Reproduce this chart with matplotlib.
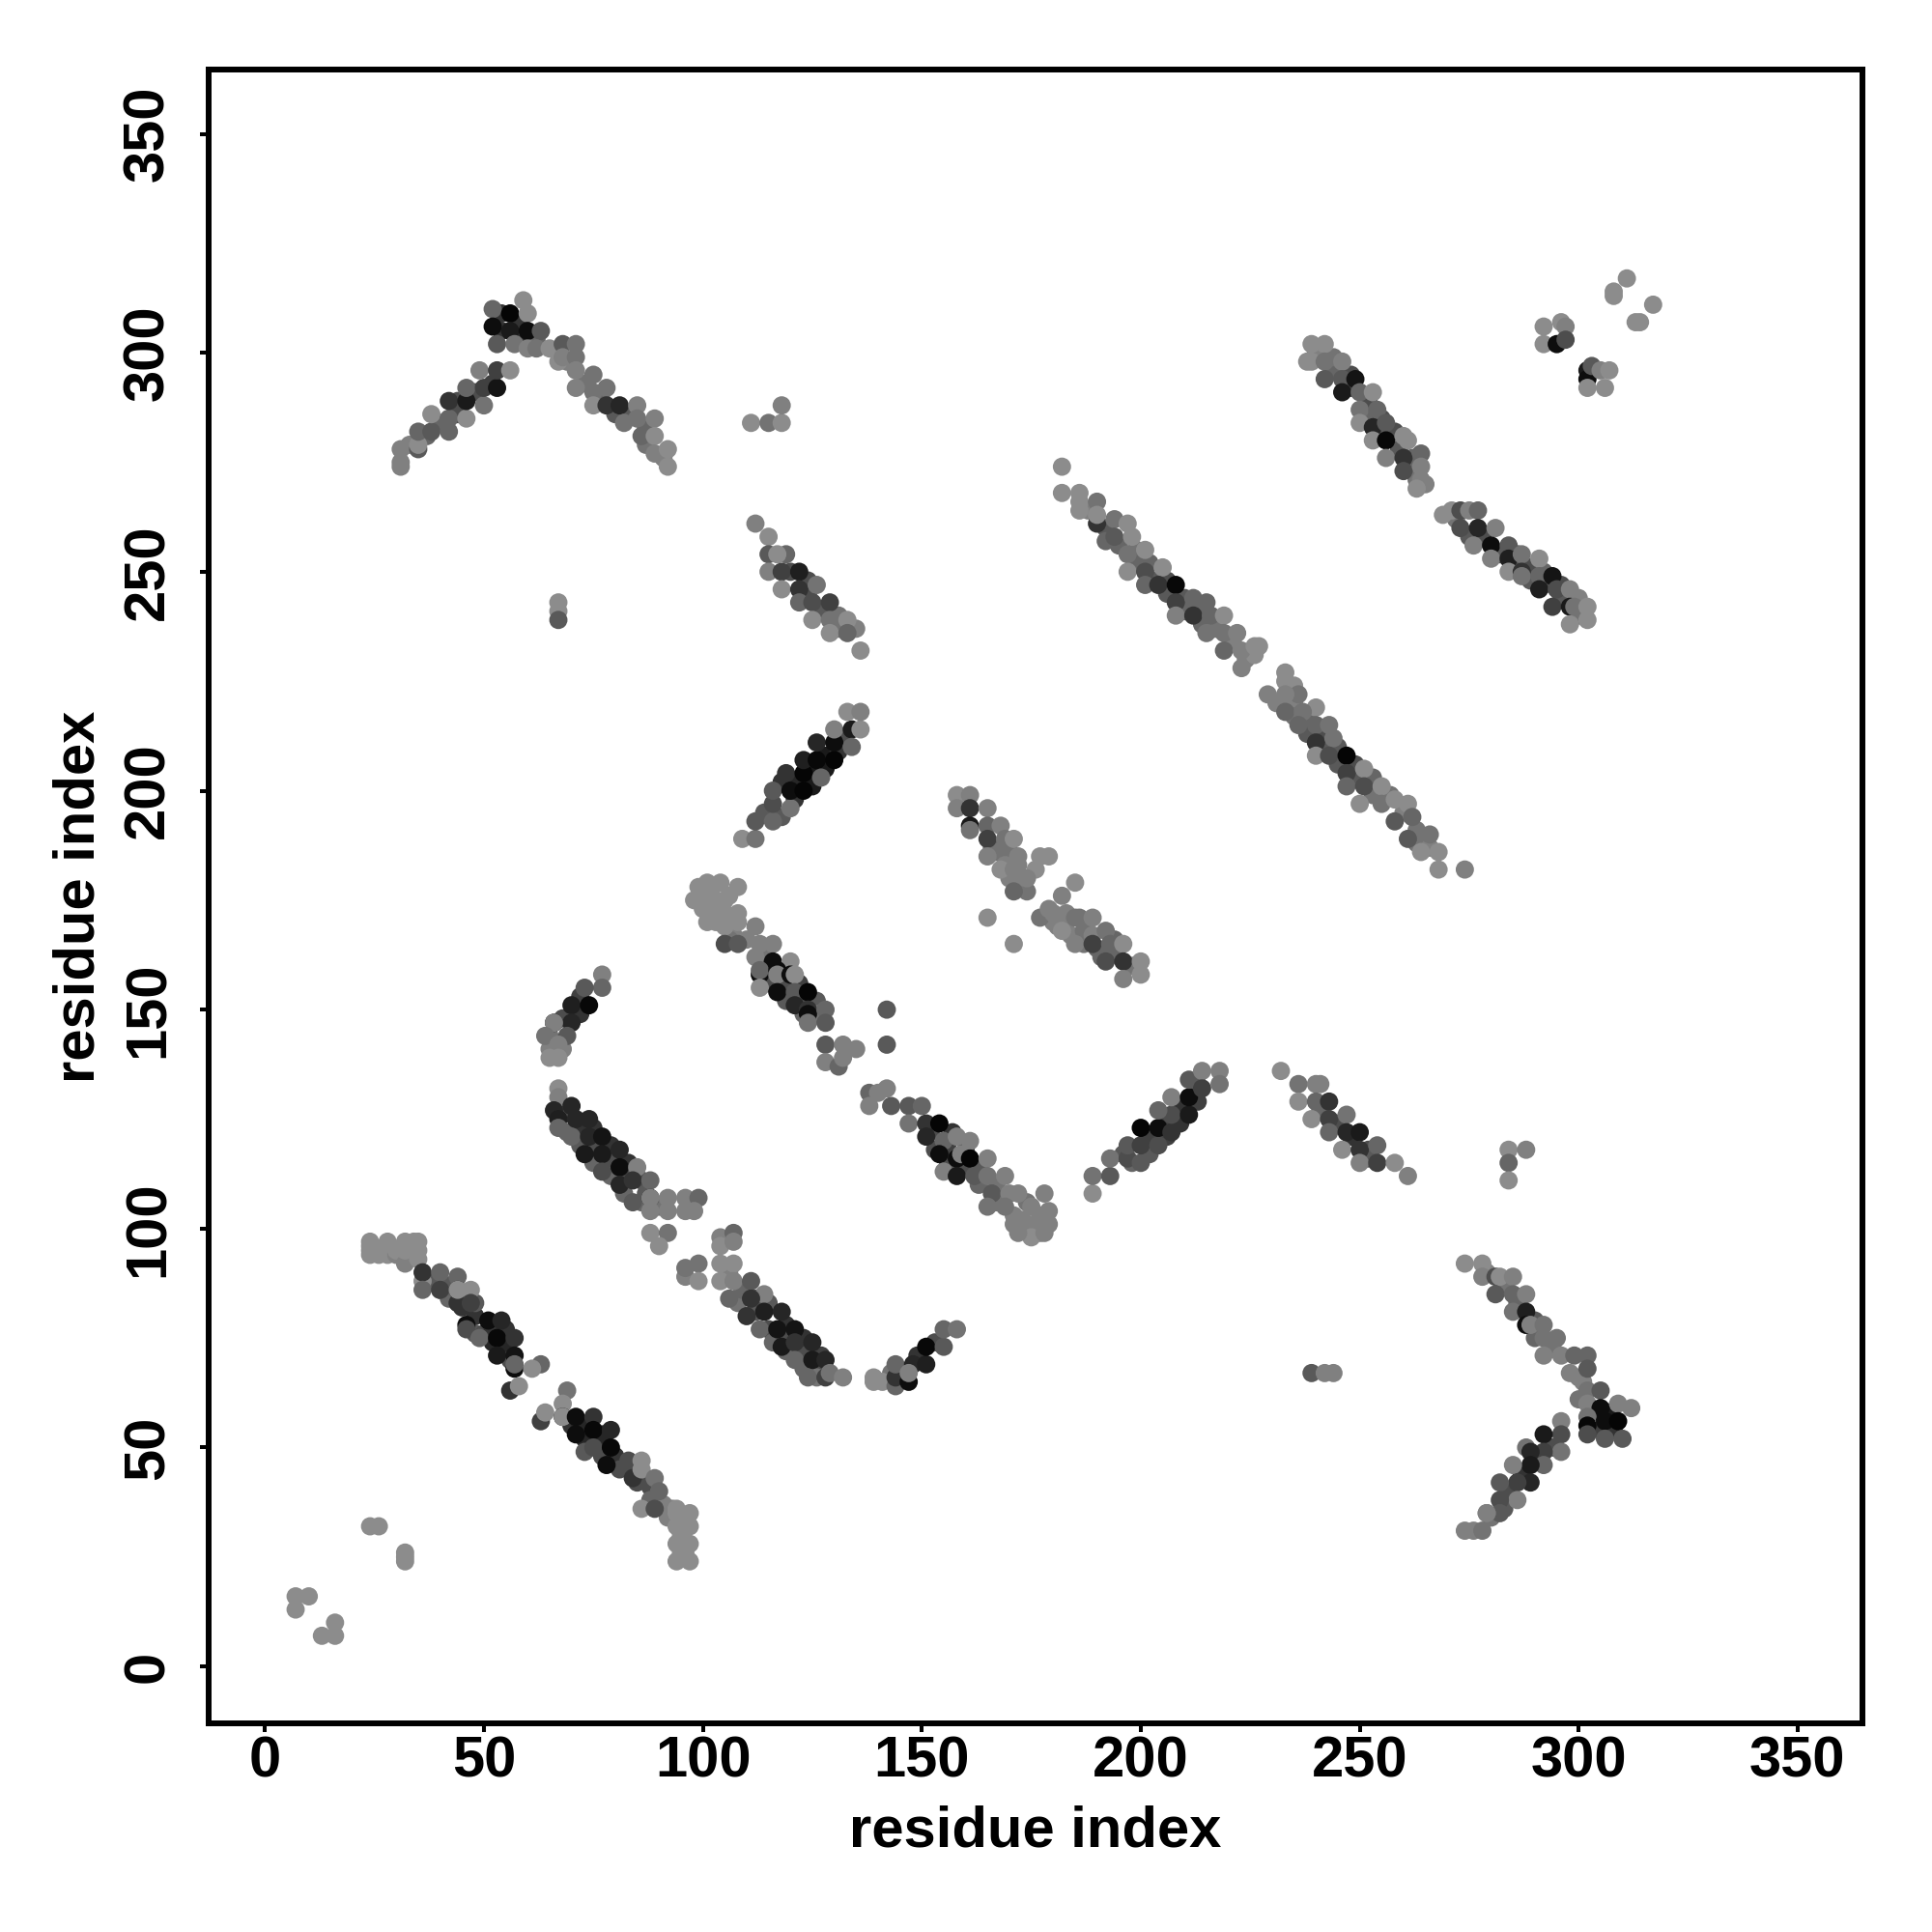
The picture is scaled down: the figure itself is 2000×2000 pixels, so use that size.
import matplotlib
matplotlib.use("Agg")
import matplotlib.pyplot as plt

plt.rcParams['font.family'] = ['Liberation Sans', 'DejaVu Sans']

tick_values = [0, 50, 100, 150, 200, 250, 300, 350]
x_label = "residue index"
y_label = "residue index"

under1_x = [38,40,42,42,45,48,48,50,52,52,55,55,56,48,70,72,73,73,76,77,77,80,81,85,85,87,88,88,68,69,72,72,75,75,75,79,79,79,83,83,82,86,86,87,112,115,115,116,119,119,119,123,123,123,127,127,126,108,112,109]
under1_y = [88,86,84,87,82,80,76,76,74,77,73,77,70,83,55,55,52,49,51,48,53,48,45,45,42,43,41,38,126,122,122,119,123,118,115,119,115,112,115,112,108,111,106,108,84,83,77,74,78,75,72,75,71,68,71,68,66,83,81,86]
under1_g = [.35,.4,.4,.35,.2,.2,.35,.3,.15,.2,.15,.2,.3,.35,.2,.15,.15,.35,.15,.3,.15,.2,.3,.25,.3,.3,.3,.4,.3,.4,.2,.35,.2,.3,.4,.2,.3,.4,.2,.3,.4,.3,.4,.35,.3,.35,.3,.4,.2,.3,.4,.2,.3,.4,.25,.3,.45,.45,.35,.4]

under2_x = [91,92,93,95,96,95,96,90,106,102,103,103,106,107,107,106,110,114,115,115,118,119,119,122,122,123,126,126,152,153,156,157,156,157,160,160,163,163,167,167,171,173,176,177,174,176,177]
under2_y = [37,34,36,30,33,26,26,105,90,176,175,170,176,170,167,166,166,162,160,156,159,155,152,156,152,149,152,149,122,118,118,122,115,113,114,118,114,110,110,106,103,102,101,103,106,100,99]
under2_g = [.5,.5,.5,.55,.55,.55,.55,.45,.5,.55,.55,.55,.55,.55,.5,.45,.5,.45,.35,.3,.2,.3,.35,.25,.3,.4,.35,.45,.3,.3,.25,.2,.3,.35,.3,.25,.35,.4,.45,.45,.5,.5,.5,.5,.45,.5,.5]

under3_x = [166,167,170,169,172,170,173,174,172,180,181,183,183,184,187,187,190,191,194,194,198,118,121,121,125,125,128,128,131,132,114,118,196,198,202,202,206,206,209,209,213,213]
under3_y = [187,186,186,183,183,180,179,177,178,170,169,170,172,167,168,165,164,162,166,163,160,202,198,202,205,201,208,205,209,212,195,194,117,115,117,121,121,125,124,128,129,133]
under3_g = [.4,.45,.45,.5,.5,.5,.45,.45,.45,.5,.5,.5,.5,.5,.45,.45,.4,.4,.4,.4,.45,.2,.2,.15,.1,.1,.1,.1,.2,.3,.35,.35,.35,.4,.35,.25,.25,.25,.2,.2,.25,.35]

under4_x = [188,192,192,195,199,199,202,203,206,206,210,210,214,214,217,221,224,226,235,238,238,242,242,245,245,249,249,253,253,257,260,263,263,266,235,231,235]
under4_y = [264,260,257,256,255,252,252,248,248,245,244,241,241,238,237,234,230,231,220,216,213,213,209,210,206,203,206,203,199,199,195,191,188,187,224,220,217]
under4_g = [.5,.35,.4,.4,.45,.4,.4,.35,.3,.35,.35,.4,.4,.4,.45,.5,.5,.55,.5,.4,.35,.3,.35,.35,.35,.35,.3,.4,.45,.45,.5,.45,.45,.5,.55,.5,.45]

under5_x = [240,244,244,248,248,252,252,255,255,258,259,262,262,263,265,272,275,278,282,285,286,289,289,292,292,296,296,300,300,33,37,40,44,44,48,52,54,54,58,58,62,69,73,76,77,80,83,87,91,87]
under5_y = [300,296,299,292,295,289,285,285,282,282,278,276,273,271,270,262,258,258,254,252,254,251,248,250,247,247,244,240,244,279,281,284,286,289,291,293,305,309,307,303,303,298,293,290,289,286,286,283,276,279]
under5_g = [.5,.4,.45,.25,.3,.3,.4,.3,.35,.3,.35,.4,.4,.45,.5,.45,.35,.3,.35,.3,.35,.3,.35,.4,.3,.3,.35,.45,.5,.5,.4,.4,.3,.3,.3,.25,.2,.2,.2,.2,.4,.5,.45,.45,.4,.35,.35,.4,.5,.45]

under6_x = [120,124,124,127,131,131,135,241,245,248,252,252,279,283,286,290,290,294,300,301,303,307,308,305,294,291,287,284,280,300,283,68,72,65,65,68,72,146,149,153,143]
under6_y = [250,245,248,241,240,237,237,127,124,121,118,116,90,87,83,79,75,73,66,65,58,58,54,54,50,47,44,40,34,61,36,148,153,144,141,141,149,66,71,74,67]
under6_g = [.3,.3,.3,.35,.45,.45,.5,.4,.3,.2,.3,.35,.5,.45,.4,.35,.4,.45,.5,.5,.1,.1,.2,.25,.3,.2,.2,.3,.45,.45,.35,.3,.25,.45,.5,.5,.2,.4,.2,.3,.45]

# Each cluster: residue i, residue j, grey level of the point
a_x = [7,10,7,16,13,16,24,26,32,32,32]
a_y = [16,16,13,10,7,7,32,32,24,25,26]
a_g = [.55]*11

b_x = [24,24,24,24,26,26,28,28,30,30,32,32,32,34,35,35,35,36,36,36,40,44,40,44,44,44,47,47,46,51,54,46,49,53,57,53,57,57,57,63,61,56,58,
       69,68,63,64,68,68,71,75,71,75,79,75,79,78,83,84,86,86,89,90,86,89,94,97,94,94,97,96,94,97,94,97]
b_y = [94,95,96,97,94,95,94,97,94,95,92,95,97,97,93,95,97,88,90,86,90,89,86,83,86,86,86,83,78,79,79,77,75,75,75,71,71,68,69,69,68,63,64,
       63,60,56,58,57,57,57,57,53,54,54,50,50,46,47,43,47,45,43,40,36,36,35,35,36,32,32,32,28,28,24,24]
b_g = [.55,.55,.55,.55,.55,.55,.55,.55,.5,.55,.5,.55,.55,.55,.55,.55,.55,.55,.2,.4,.4,.4,.25,.2,.1,.55,.55,.25,.05,.05,.15,.3,.4,.03,.2,.1,.08,.05,.4,.4,.55,.2,.55,
       .45,.55,.25,.55,.1,.55,.05,.2,.05,.03,.15,.3,.03,.05,.3,.2,.55,.55,.45,.4,.55,.3,.55,.55,.55,.55,.55,.55,.55,.55,.55,.55]

c_x = [77,77,73,70,74,70,66,66,69,64,67,65,67]
c_y = [158,155,155,151,151,147,147,147,144,144,142,139,139]
c_g = [.5,.4,.35,.12,.03,.15,.05,.5,.35,.45,.5,.55,.55]

d_x = [67,67,66,70,67,67,71,70,74,74,77,73,77,81,77,81,85,81,84,88,84,88,88,92,88,92,96,99,96,98,88,92,90,104,107,104,107,96,99,96,99,104,107,104,107,111,114,106,111,110,114,118,113,117,121,118,121,125,121,125,128,124,128,129,132]
d_y = [132,130,127,128,125,123,125,121,125,121,121,117,117,118,113,114,114,110,111,111,106,107,107,107,104,104,107,107,104,104,99,99,96,98,99,96,97,89,92,91,88,92,92,88,88,88,85,84,84,80,81,81,77,77,77,73,74,74,70,70,70,66,66,67,66]
d_g = [.55,.5,.15,.15,.12,.4,.15,.4,.15,.15,.08,.1,.1,.15,.3,.05,.5,.15,.2,.4,.35,.1,.5,.5,.5,.5,.5,.4,.5,.5,.55,.45,.55,.5,.4,.55,.5,.5,.45,.45,.55,.55,.55,.55,.5,.35,.5,.4,.2,.2,.12,.15,.4,.08,.08,.1,.2,.15,.4,.1,.15,.4,.25,.45,.5]

e_x = [139,139,141,144,144,144,147,148,147,151,151,155,155,158]
e_y = [66,65,65,64,66,69,65,69,67,69,73,73,77,77]
e_g = [.55,.55,.55,.4,.2,.4,.05,.15,.5,.12,.03,.35,.4,.45]

f_x = [99,101,104,108,98,101,105,100,101,103,105,108,108,105,105,108,112,113,116,112,116,120,113,113,117,117,120,121,113,117,121,124,121,124,124,128,124,128,128,132,135,128,131,132]
f_y = [178,179,179,178,175,175,175,173,170,172,172,172,170,169,165,165,169,165,165,162,161,161,158,159,159,158,158,158,155,154,154,154,151,150,149,150,147,147,142,142,141,138,137,139]
f_g = [.55,.55,.55,.55,.55,.55,.55,.55,.55,.55,.55,.55,.55,.55,.3,.35,.5,.5,.5,.5,.05,.55,.05,.4,.05,.5,.05,.55,.55,.05,.35,.02,.15,.2,.05,.4,.45,.35,.35,.5,.5,.5,.4,.5]

g_x = [142,142,138,142,140,138,143,147,150,147,151,151,154,155,158,161,154,158,159,161,155,158,165,162,165,169,166,165,170,172,178,169,175,179,171,174,179,175,178,172]
g_y = [150,142,131,132,131,128,128,128,128,124,124,121,124,120,121,120,117,116,117,116,113,112,116,112,112,112,108,105,108,108,108,105,105,104,101,100,101,98,99,99]
g_g = [.35,.35,.4,.5,.5,.5,.35,.35,.4,.45,.2,.15,.02,.4,.5,.5,.05,.05,.5,.02,.5,.1,.5,.35,.45,.5,.35,.45,.5,.5,.5,.45,.5,.5,.5,.5,.5,.55,.5,.5]

h_x = [112,115,115,119,117,115,118,122,118,122,126,122,125,129,125,129,133,129,133,136]
h_y = [261,258,254,254,254,250,250,250,246,246,247,243,243,243,239,239,239,236,236,232]
h_g = [.5,.55,.35,.4,.55,.5,.25,.12,.55,.2,.45,.4,.3,.25,.55,.45,.55,.55,.4,.55]

i_x = [109,112,112,116,116,116,120,119,120,123,123,123,126,127,126,130,130,130,134,134,136,133,136]
i_y = [189,189,193,193,197,200,196,204,200,204,200,207,207,203,211,207,211,214,214,210,214,218,218]
i_g = [.55,.45,.35,.4,.3,.35,.45,.2,.05,.02,.02,.12,.03,.4,.15,.02,.05,.5,.1,.4,.55,.55,.5]

j_x = [158,158,161,161,161,165,161,165,168,165,169,171,165,172,179,177,168,176,171,172,171,174,165,171]
j_y = [199,196,199,196,192,196,191,192,192,189,189,189,185,185,185,185,182,182,182,180,177,180,171,165]
j_g = [.55,.5,.5,.2,.1,.5,.45,.4,.5,.25,.45,.55,.5,.5,.55,.55,.55,.55,.5,.5,.4,.5,.55,.55]

k_x = [177,179,180,182,185,182,186,185,189,189,189,192,193,196,192,196,200,196,200,185]
k_y = [171,173,172,176,171,168,171,165,171,167,165,168,165,165,161,161,161,157,158,179]
k_g = [.45,.5,.5,.5,.45,.55,.45,.5,.5,.5,.25,.45,.4,.55,.3,.2,.55,.5,.55,.55]

l_x = [189,189,193,193,197,197,200,200,200,204,204,207,207,204,211,207,211,211,214,214,218,218]
l_y = [108,112,112,116,116,119,115,119,123,119,123,122,126,127,126,130,130,134,136,132,136,133]
l_g = [.55,.45,.35,.45,.3,.35,.35,.25,.02,.3,.05,.2,.3,.4,.1,.5,.05,.35,.5,.25,.5,.45]

m_x = [232,236,240,241,236,240,243,239,243,247,243,247,250,246,250,254,250,254,258,261,284,288,284,284,239,242,244]
m_y = [136,133,133,133,129,129,129,125,125,126,122,122,122,118,118,119,115,115,115,112,118,118,115,111,67,67,67]
m_g = [.55,.45,.5,.5,.55,.4,.2,.55,.25,.45,.4,.15,.1,.55,.2,.4,.5,.25,.55,.5,.55,.5,.4,.55,.35,.5,.5]

n_x = [274,278,278,281,282,285,281,285,288,285,288,288,289,292,292,295,292,296,299,302,298,302,302,305,302,305,309,312,302,302,306,309,302,306,310]
n_y = [92,92,89,89,89,89,85,85,85,81,81,78,78,78,75,75,71,71,71,71,67,68,63,63,60,59,60,59,57,55,56,56,53,52,52]
n_g = [.55,.55,.5,.3,.55,.5,.35,.4,.5,.45,.12,.05,.5,.45,.45,.45,.5,.5,.4,.4,.5,.35,.45,.35,.5,.05,.5,.5,.45,.03,.05,.02,.3,.35,.35]

o_x = [296,296,292,296,292,288,289,292,289,285,289,286,282,286,282,282,279,279,274,276,278]
o_y = [56,53,53,49,49,50,49,46,46,46,42,42,42,38,38,35,35,35,31,31,31]
o_g = [.5,.3,.1,.45,.25,.45,.15,.4,.1,.5,.15,.25,.35,.5,.3,.35,.45,.5,.5,.5,.45]

p_x = [31,31,31,35,35,35,38,38,42,42,42,46,46,50,46,50,53,49,53,56]
p_y = [274,275,278,278,279,282,282,286,282,285,289,285,289,288,292,292,292,296,296,296]
p_g = [.5,.5,.5,.35,.55,.4,.35,.55,.4,.4,.2,.55,.1,.45,.4,.25,.08,.5,.25,.55]

q_x = [52,52,53,56,56,57,59,60,60,63,60,62,65,68,71,67,68,71,71,71,75,75,78,75,78,81,82,85,85,86,89,89,89,92,92]
q_y = [310,306,302,309,305,302,312,309,305,305,301,301,301,302,302,298,299,299,296,292,295,291,292,288,288,288,284,288,285,281,285,281,277,278,274]
q_g = [.4,.05,.35,.02,.1,.45,.55,.55,.05,.35,.5,.45,.55,.35,.45,.55,.5,.45,.5,.5,.45,.45,.45,.55,.2,.15,.45,.5,.45,.4,.5,.55,.5,.55,.55]

r_x = [111,115,118,118,67,67,67]
r_y = [284,284,284,288,243,241,239]
r_g = [.55,.45,.55,.5,.55,.55,.35]

s_x = [182,182,186,186,186,190,190,190,194,194,197,198,197,201,197,201,205,201,204,208,208,208,212,212,215,216,219,215,219,219,222,223,223,226,227]
s_y = [274,268,268,266,264,266,261,263,262,258,261,258,254,255,250,250,251,247,247,247,243,240,244,240,243,240,240,236,236,232,236,232,228,233,233]
s_g = [.55,.55,.55,.55,.55,.45,.2,.55,.45,.35,.55,.55,.45,.55,.55,.3,.55,.4,.2,.03,.25,.5,.4,.2,.4,.4,.55,.45,.45,.4,.5,.5,.5,.55,.55]

t_x = [233,233,229,236,233,233,240,237,236,240,243,240,244,240,243,247,247,251,247,251,250,255,255,258,261,258,262,261,264,266,268,268,274]
t_y = [227,225,222,222,222,218,219,218,215,215,215,211,212,208,208,208,204,205,201,201,197,201,197,198,197,193,194,189,186,190,186,182,182]
t_g = [.55,.55,.5,.45,.5,.4,.55,.45,.4,.4,.45,.2,.45,.55,.3,.02,.25,.55,.4,.3,.55,.55,.45,.55,.55,.35,.4,.35,.55,.45,.55,.55,.5]

u_x = [239,242,238,239,242,242,246,246,249,246,250,253,250,250,254,253,256,253,256,256,260,261,260,260,264,264,264,263]
u_y = [302,302,298,298,298,294,298,294,294,291,291,291,287,284,287,283,284,280,280,276,281,280,276,273,277,274,271,269]
u_g = [.55,.55,.55,.55,.45,.35,.5,.35,.08,.1,.4,.55,.45,.55,.4,.15,.35,.55,.03,.5,.55,.55,.2,.3,.4,.5,.5,.55]

v_x = [269,271,273,275,277,273,277,281,276,280,280,284,284,284,287,287,287,291,291,294,291,295,298,294,298,299,302,298,302]
v_y = [263,264,264,264,264,260,260,260,256,256,253,256,253,250,254,250,249,253,249,249,246,246,246,242,242,242,242,238,239]
v_g = [.55,.55,.3,.5,.4,.3,.15,.5,.5,.05,.5,.35,.12,.55,.45,.2,.45,.55,.4,.08,.12,.3,.5,.25,.1,.45,.55,.55,.55]

w_x = [292,292,296,297,295,297,302,302,303,302,306,305,307,308,308,311,317,313,314]
w_y = [306,302,307,306,302,303,296,294,297,292,292,296,296,314,313,317,311,307,307]
w_g = [.55,.55,.55,.5,.05,.3,.1,.05,.35,.55,.55,.5,.55,.55,.55,.55,.55,.55,.55]

clusters = [(under1_x, under1_y, under1_g), (under2_x, under2_y, under2_g), (under3_x, under3_y, under3_g),
            (under4_x, under4_y, under4_g), (under5_x, under5_y, under5_g), (under6_x, under6_y, under6_g),
            (a_x, a_y, a_g), (b_x, b_y, b_g), (c_x, c_y, c_g), (d_x, d_y, d_g), (e_x, e_y, e_g),
            (f_x, f_y, f_g), (g_x, g_y, g_g), (h_x, h_y, h_g), (i_x, i_y, i_g), (j_x, j_y, j_g),
            (k_x, k_y, k_g), (l_x, l_y, l_g), (m_x, m_y, m_g), (n_x, n_y, n_g), (o_x, o_y, o_g),
            (p_x, p_y, p_g), (q_x, q_y, q_g), (r_x, r_y, r_g), (s_x, s_y, s_g), (t_x, t_y, t_g),
            (u_x, u_y, u_g), (v_x, v_y, v_g), (w_x, w_y, w_g)]

fig = plt.figure(figsize=(20, 20), dpi=100)
ax = fig.add_axes([216/2000, 1 - 1784/2000, 1712/2000, 1712/2000])

for xs, ys, gs in clusters:
    n = min(len(xs), len(ys), len(gs))
    ax.scatter(xs[:n], ys[:n], s=185, c=[str(v) for v in gs[:n]], linewidths=0, zorder=3)

ax.set_xlim(-12.86, 364.8)
ax.set_ylim(-13.0, 364.7)
ax.set_xticks(tick_values)
ax.set_yticks(tick_values)
ax.tick_params(length=6.5, width=2.9)
ax.tick_params(axis='x', labelsize=43, pad=2.5)
ax.tick_params(axis='y', labelsize=43, pad=18.5)
for lab in ax.get_xticklabels() + ax.get_yticklabels():
    lab.set_fontweight('bold')
for lab in ax.get_yticklabels():
    lab.set_rotation(90)
    lab.set_va('center')
ax.set_xlabel(x_label, fontsize=43, fontweight='bold', labelpad=12)
ax.set_ylabel(y_label, fontsize=43, fontweight='bold', labelpad=12)
for sp in ax.spines.values():
    sp.set_linewidth(4.3)

fig.savefig("out.png", dpi=100, facecolor="white")
print([len(c[0]) - len(c[1]) for c in clusters], [len(c[0]) - len(c[2]) for c in clusters])
